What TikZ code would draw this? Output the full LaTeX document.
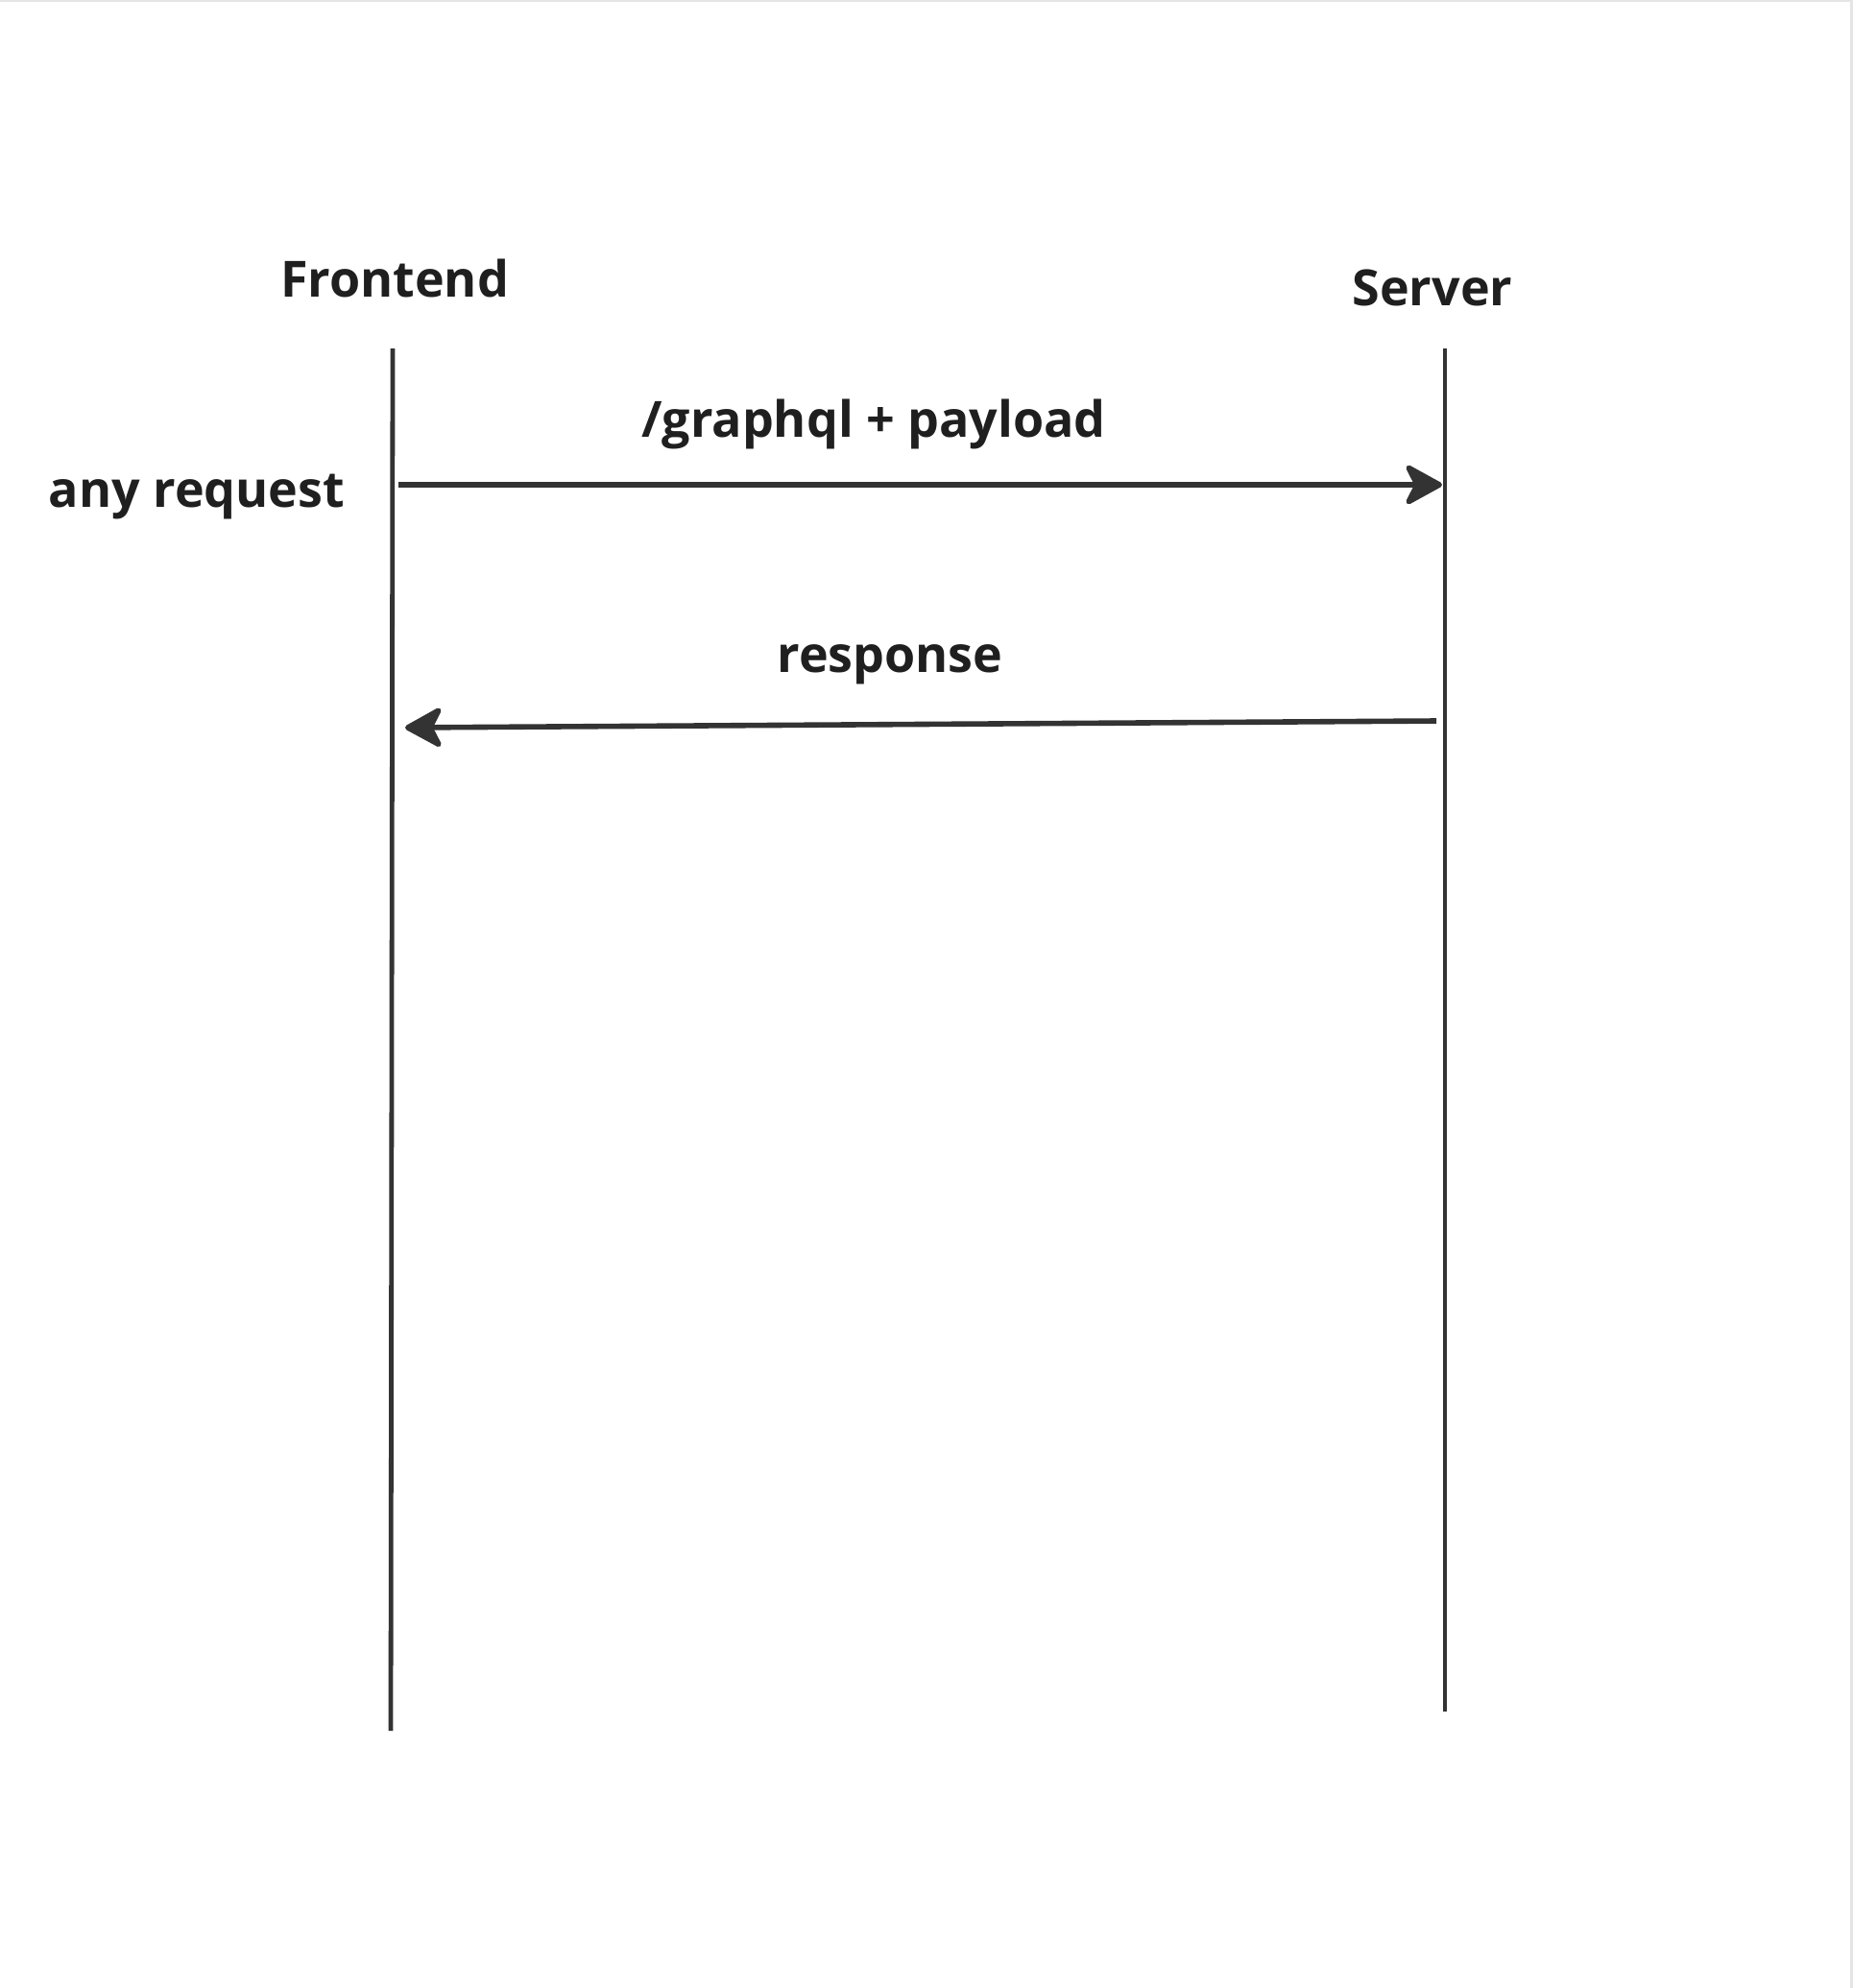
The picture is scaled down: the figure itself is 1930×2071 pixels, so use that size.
\documentclass[tikz,border=0pt]{standalone}
\usepackage{fontspec}
\setmainfont{Open Sans}
\usetikzlibrary{arrows.meta}
\definecolor{ink}{HTML}{333333}
\begin{document}
\begin{tikzpicture}[x=0.5pt,y=-0.5pt,
  lifeline/.style={draw=ink,line width=2.4pt},
  msg/.style={draw=ink,line width=2.8pt,-{Stealth[length=22pt,width=24pt,inset=6pt,round]}},
  lbl/.style={font=\fontsize{26pt}{31pt}\selectfont\bfseries,text=black!88,inner sep=0pt}]
\useasboundingbox (0,0) rectangle (1930,2071);
\fill[white] (0,0) rectangle (1930,2071);
\draw[black!10,line width=1.5pt] (0,1) -- (1928,1) -- (1928,2071);
% lifeline ends
\coordinate (feTop) at (409,363);
\coordinate (feBot) at (407,1803);
\coordinate (svTop) at (1505,363);
\coordinate (svBot) at (1505,1783);
\draw[lifeline] (feTop) -- (feBot);
\draw[lifeline] (svTop) -- (svBot);
% headers
\node[lbl] (fe) at (411,290) {Frontend};
\node[lbl] (sv) at (1492,300) {Server};
% messages
\coordinate (reqA) at (415,505);
\coordinate (reqB) at (1502,505);
\coordinate (resA) at (1496,751);
\coordinate (resB) at (422,758);
\draw[msg] (reqA) -- (reqB);
\draw[msg] (resA) -- (resB);
\node[lbl] (gq) at (910,442) {/graphql + payload};
\node[lbl] (any) at (205,518) {any request};
\node[lbl] (resp) at (927,692) {response};
\end{tikzpicture}
\end{document}
